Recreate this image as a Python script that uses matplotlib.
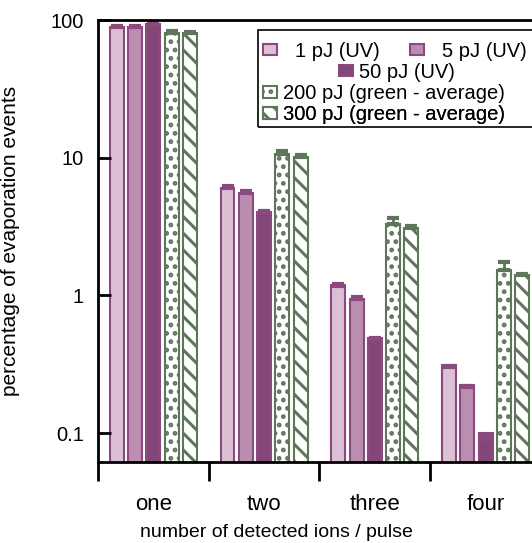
import numpy as np
import matplotlib.pyplot as plt
from matplotlib.patches import Rectangle

plt.rcParams['font.family'] = ['Liberation Sans', 'DejaVu Sans']
plt.rcParams['hatch.linewidth'] = 2.2

groups = ['one', 'two', 'three', 'four']
labels = ['1 pJ (UV)', '5 pJ (UV)', '50 pJ (UV)',
          '200 pJ (green - average)', '300 pJ (green - average)']
pj1 = [89, 6.05, 1.18, 0.30]
pj5 = [89, 5.57, 0.94, 0.215]
pj50 = [94, 4.0, 0.48, 0.091]
pj200 = [80, 10.7, 3.28, 1.52]
pj300 = [80, 10.2, 3.1, 1.40]
err1 = [2, 0.2, 0.03, 0.008]
err5 = [2, 0.2, 0.03, 0.006]
err50 = [2, 0.1, 0.01, 0.003]
err200 = [3, 0.5, 0.4, 0.24]
err300 = [2, 0.3, 0.08, 0.04]

pink_edge = '#8b4a7e'
green_edge = '#5e775b'
styles = [
    dict(facecolor='#dcc0d6', edgecolor=pink_edge, hatch=None),
    dict(facecolor='#bb8db1', edgecolor=pink_edge, hatch=None),
    dict(facecolor='#844577', edgecolor=pink_edge, hatch=None),
    dict(facecolor='white', edgecolor=green_edge, hatch='..'),
    dict(facecolor='white', edgecolor=green_edge, hatch='\\\\'),
]

fig = plt.figure(figsize=(5.32, 5.43), dpi=100)
ax = fig.add_axes([0.184, 0.149, 0.833, 0.814])

x = np.arange(len(groups))
w = 0.126
step = 0.165
series = [pj1, pj5, pj50, pj200, pj300]
errs = [err1, err5, err50, err200, err300]
handles = []
for i, (vals, e, st) in enumerate(zip(series, errs, styles)):
    pos = x + (i - 2) * step
    b = ax.bar(pos, vals, w, bottom=0.01, facecolor=st['facecolor'],
               edgecolor=st['edgecolor'], hatch=st['hatch'], linewidth=1.5,
               label=labels[i])
    ax.errorbar(pos, vals, yerr=[np.zeros(len(vals)), e], fmt='none',
                ecolor=st['edgecolor'], elinewidth=2, capsize=4.5, capthick=3)
    handles.append(b)

ax.set_yscale('log')
ax.set_ylim(0.0616, 100)
ax.set_xlim(-0.5, 3.5)
ax.set_yticks([0.1, 1, 10, 100])
ax.set_yticklabels(['0.1', '1', '10', '100'])
ax.yaxis.set_minor_locator(plt.NullLocator())
ax.tick_params(axis='y', direction='in', length=9, width=2, labelsize=14.5, pad=10)

ax.set_xticks(x)
ax.set_xticklabels(groups)
ax.set_xticks(np.arange(-0.5, 3.6, 1.0), minor=True)
ax.tick_params(axis='x', which='major', length=0, labelsize=16, pad=23)
ax.tick_params(axis='x', which='minor', direction='out', length=14, width=2)

for s in ax.spines.values():
    s.set_linewidth(2)

ax.set_ylabel('percentage of evaporation events', fontsize=15)
ax.yaxis.set_label_coords(-0.175, 0.5)
ax.set_xlabel('number of detected ions / pulse', fontsize=14)
ax.xaxis.set_label_coords(0.404, -0.14)

# legend rows, each a small legend, inside one frame
kw = dict(frameon=False, fontsize=14.5, handlelength=0.7, handleheight=0.5,
          borderpad=0, borderaxespad=0, loc='center left')
rows = [
    (handles[:2], labels[:2], (0.372, 0.93), dict(ncol=2, handletextpad=0.9,
                                                 columnspacing=1.5)),
    (handles[2:3], labels[2:3], (0.544, 0.882), dict(handletextpad=0.3)),
    (handles[3:4], labels[3:4], (0.372, 0.834), dict(handletextpad=0.3)),
    (handles[4:5], labels[4:5], (0.372, 0.786), dict(handletextpad=0.3)),
]
for h, lb, anchor, extra in rows:
    leg = ax.legend(h, lb, bbox_to_anchor=anchor, **kw, **extra)
    ax.add_artist(leg)
ax.add_patch(Rectangle((0.361, 0.758), 0.7, 0.219, transform=ax.transAxes,
                       fill=False, edgecolor='black', linewidth=1.2,
                       clip_on=False, zorder=5))

fig.savefig('out.png', dpi=100)
